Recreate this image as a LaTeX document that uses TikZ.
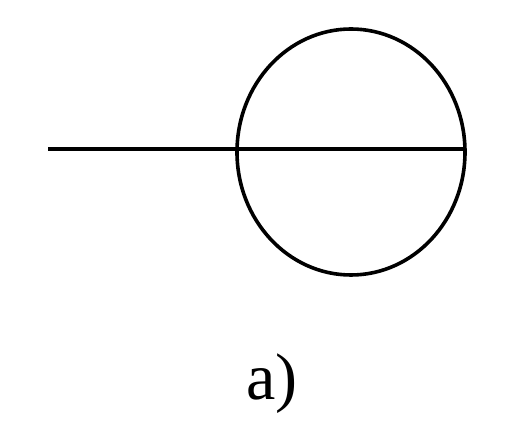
\documentclass[tikz,border=0pt]{standalone}
\usepackage{fontspec}
\setmainfont{Liberation Serif}
\begin{document}
\begin{tikzpicture}[x=1pt,y=-1pt,line width=3.6pt,
  strokeline/.style={draw=black},
  lbl/.style={font=\fontsize{66}{70}\selectfont, inner sep=0pt}]
\useasboundingbox (0,0) rectangle (507,443);
\draw[strokeline] (351,152) ellipse [x radius=114, y radius=123];
\coordinate (L) at (48,149);
\coordinate (R) at (465,149);
\draw[strokeline] (L) -- (R);
\node[lbl] (a) at (272,384) {a)};
\end{tikzpicture}
\end{document}
